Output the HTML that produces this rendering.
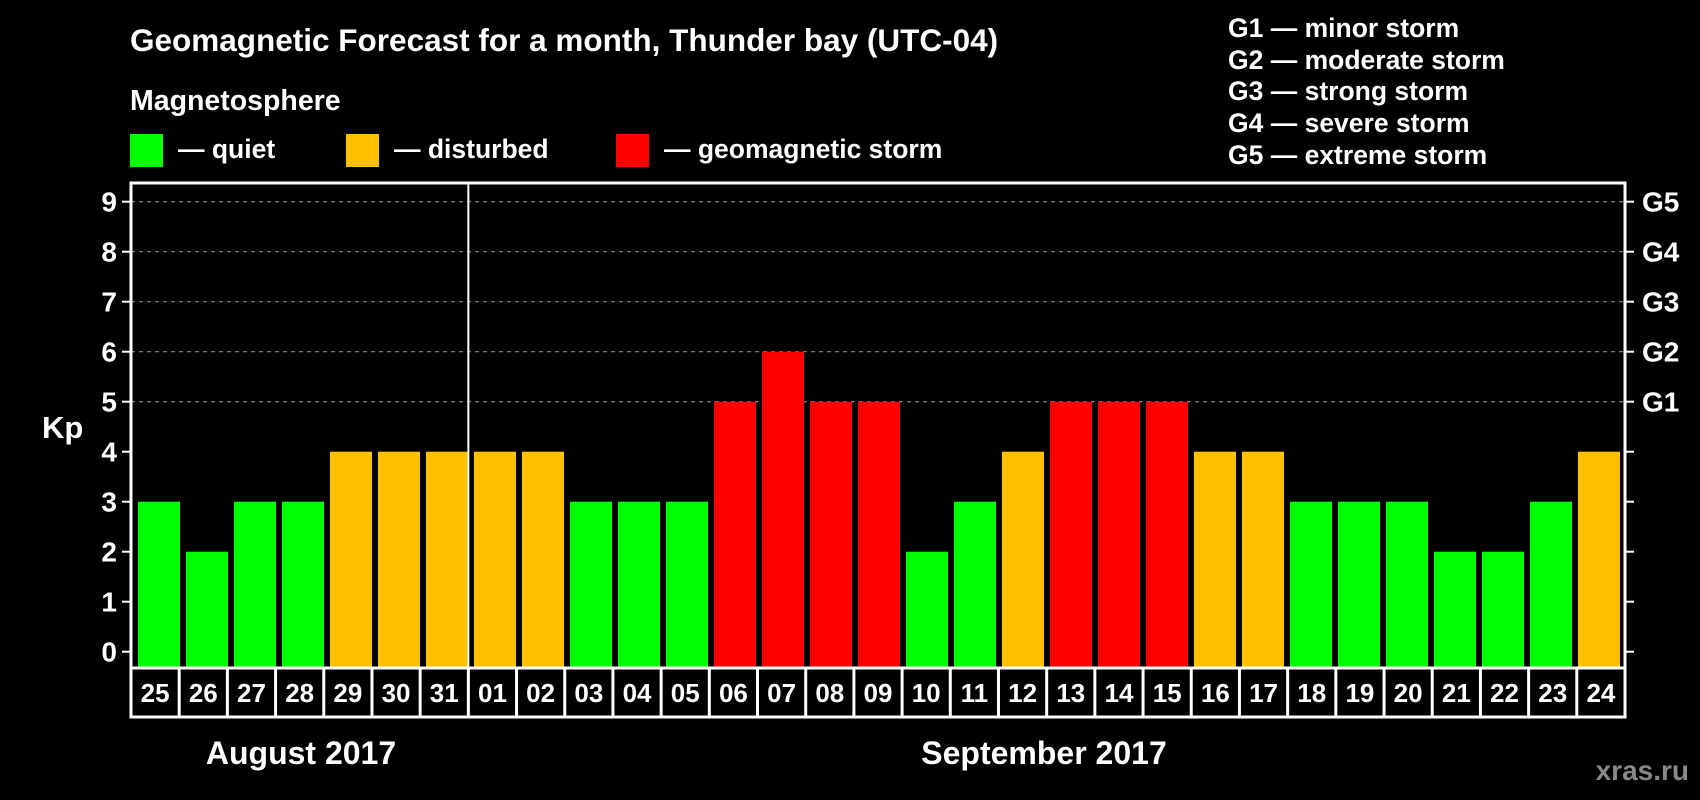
<!DOCTYPE html>
<html><head><meta charset="utf-8"><style>
html,body{margin:0;padding:0;background:#000;}
svg{display:block;font-family:"Liberation Sans",Arial,sans-serif;font-weight:bold;}
</style></head><body>
<svg id="chart" width="1700" height="800" viewBox="0 0 1700 800" xmlns="http://www.w3.org/2000/svg">
<rect width="1700" height="800" fill="#000"/>
<text x="130" y="51" fill="#fff" font-size="31.5">Geomagnetic Forecast for a month, Thunder bay (UTC-04)</text>
<text x="130" y="110" fill="#fff" font-size="28.5">Magnetosphere</text>
<g><rect x="130" y="134" width="33" height="33" fill="#00ff00"/><text x="178" y="158" fill="#fff" font-size="26.5">— quiet</text></g>
<g><rect x="346" y="134" width="33" height="33" fill="#ffc000"/><text x="394" y="158" fill="#fff" font-size="26.5">— disturbed</text></g>
<g><rect x="616" y="134" width="33" height="33" fill="#ff0000"/><text x="664" y="158" fill="#fff" font-size="26.5">— geomagnetic storm</text></g>
<g fill="#fff" font-size="26.5">
<text x="1228" y="37">G1 — minor storm</text>
<text x="1228" y="69">G2 — moderate storm</text>
<text x="1228" y="100">G3 — strong storm</text>
<text x="1228" y="132">G4 — severe storm</text>
<text x="1228" y="164">G5 — extreme storm</text>
</g>
<text x="42" y="438" fill="#fff" font-size="31">Kp</text>
<g id="plot"></g>
<text x="301" y="764" fill="#fff" font-size="32" text-anchor="middle">August 2017</text>
<text x="1044" y="764" fill="#fff" font-size="32" text-anchor="middle">September 2017</text>
<text x="1689" y="780" fill="#888" font-size="28" text-anchor="end">xras.ru</text>
</svg>
<script>
const dates = ["25","26","27","28","29","30","31","01","02","03","04","05","06","07","08","09","10","11","12","13","14","15","16","17","18","19","20","21","22","23","24"];
const kpValues = [3,2,3,3,4,4,4,4,4,3,3,3,5,6,5,5,2,3,4,5,5,5,4,4,3,3,3,2,2,3,4];
const yTicks = [0,1,2,3,4,5,6,7,8,9];
const gLabels = ["G1","G2","G3","G4","G5"];
const gLevels = [5,6,7,8,9];

const NS="http://www.w3.org/2000/svg";
const L=131,R=1625,T=183,B=668,DB=717;
const y0=651.7, unit=50;
const yS=v=>y0-v*unit;
const pitch=(R-L)/dates.length;
const xS=i=>L+i*pitch;
const g=document.getElementById('plot');
function mk(tag,attrs){const e=document.createElementNS(NS,tag);for(const k in attrs)e.setAttribute(k,attrs[k]);g.appendChild(e);return e;}
function color(v){return v>=5?"#ff0000":(v>=4?"#ffc000":"#00ff00");}

yTicks.forEach(v=>{
  const y=yS(v);
  if(v>=5){const gl=mk('line',{x1:L,x2:R,y1:y,y2:y,stroke:'#888','stroke-width':1.2,'stroke-dasharray':'4 4'});
  
  }
  const t1=mk('line',{x1:L-9,x2:L,y1:y,y2:y,stroke:'#fff','stroke-width':2});
  
  
  const t2=mk('line',{x1:R,x2:R+9,y1:y,y2:y,stroke:'#fff','stroke-width':2});
  
  
  const tx=mk('text',{x:117,y:y+10,fill:'#fff','font-size':28,'text-anchor':'end'});
  tx.textContent=v;
  
  
});
gLevels.forEach((v,i)=>{
  const tx=mk('text',{x:1642,y:yS(v)+10,fill:'#fff','font-size':28});
  tx.textContent=gLabels[i];
  
  
});
kpValues.forEach((v,i)=>{
  const b=mk('rect',{x:L+7+i*48,y:yS(v),width:42,height:B-yS(v),fill:color(v)});
  
  
});
dates.forEach((d,i)=>{
  if(i>0){const dl=mk('line',{x1:xS(i),x2:xS(i),y1:B,y2:DB,stroke:'#fff','stroke-width':3});
  
  }
  const tx=mk('text',{x:xS(i)+pitch/2,y:702,fill:'#fff','font-size':26,'text-anchor':'middle'});
  tx.textContent=d;
  
  
});
const fr=mk('rect',{x:L,y:T,width:R-L,height:DB-T,fill:'none',stroke:'#fff','stroke-width':3});


const bl=mk('line',{x1:L,x2:R,y1:B,y2:B,stroke:'#fff','stroke-width':3});


const sep=mk('line',{x1:xS(7),x2:xS(7),y1:T,y2:DB,stroke:'#fff','stroke-width':2});


</script>
</body></html>
